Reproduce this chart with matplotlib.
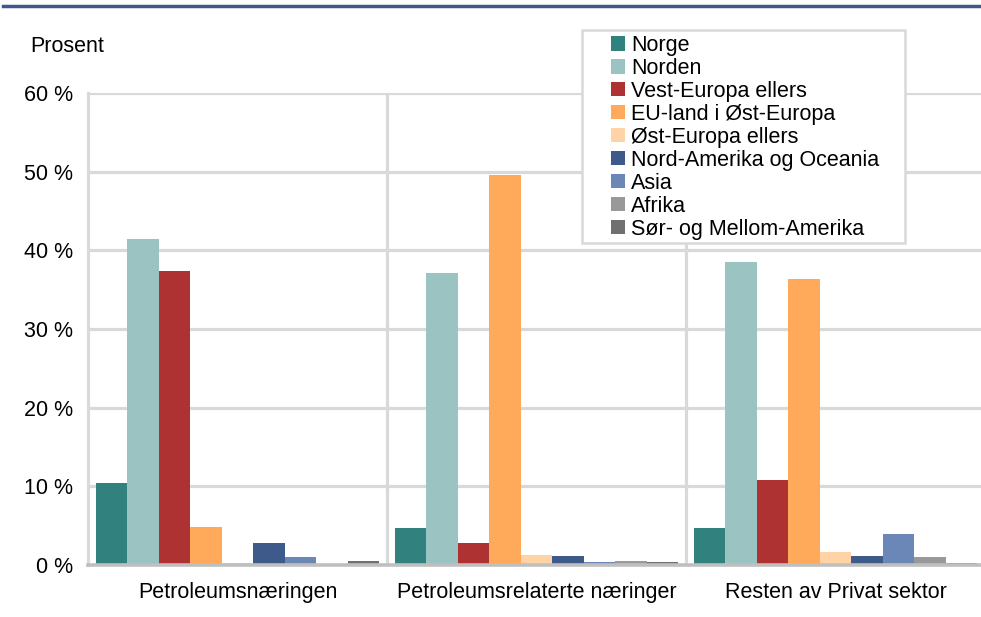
import matplotlib
matplotlib.use("Agg")
import matplotlib.pyplot as plt
import numpy as np
from matplotlib.lines import Line2D
from matplotlib.patches import Rectangle

plt.rcParams['font.family'] = ['Liberation Sans', 'DejaVu Sans']

categories = ["Petroleumsnæringen", "Petroleumsrelaterte næringer", "Resten av Privat sektor"]
series = ["Norge", "Norden", "Vest-Europa ellers", "EU-land i Øst-Europa", "Øst-Europa ellers",
          "Nord-Amerika og Oceania", "Asia", "Afrika", "Sør- og Mellom-Amerika"]
values = {
    "Norge":                   [10.4, 4.7, 4.7],
    "Norden":                  [41.4, 37.1, 38.5],
    "Vest-Europa ellers":      [37.4, 2.8, 10.8],
    "EU-land i Øst-Europa":    [4.8, 49.6, 36.4],
    "Øst-Europa ellers":       [0.3, 1.3, 1.7],
    "Nord-Amerika og Oceania": [2.8, 1.1, 1.1],
    "Asia":                    [1.0, 0.4, 3.9],
    "Afrika":                  [0.1, 0.5, 1.0],
    "Sør- og Mellom-Amerika":  [0.5, 0.4, 0.3],
}
colors = ["#31827f", "#9bc3c2", "#ae3232", "#ffaa5a", "#ffd3a6",
          "#3e5a8a", "#6b87b8", "#999999", "#707070"]
yticks = [0, 10, 20, 30, 40, 50, 60]
ytick_labels = ["0 %", "10 %", "20 %", "30 %", "40 %", "50 %", "60 %"]

FS = 15.5
W, H = 981, 617
fig = plt.figure(figsize=(W/100, H/100), dpi=100)
ax = fig.add_axes([88/W, (H-565)/H, 897/W, 472/H])

x = np.arange(len(categories))
w = 0.1055
n = len(series)
for i, s in enumerate(series):
    ax.bar(x + (i - (n-1)/2) * w, values[s], width=w, color=colors[i], label=s, zorder=3)

ax.set_xlim(-0.5, 2.5)
ax.set_ylim(0, 60)
ax.set_yticks(yticks)
ax.set_yticklabels(ytick_labels, fontsize=FS)
ax.set_xticks(x)
ax.set_xticklabels(categories, fontsize=FS)
ax.tick_params(axis='both', length=0)
ax.tick_params(axis='y', pad=11)
ax.tick_params(axis='x', pad=12)

grid_c = "#d9d9d9"
for yv in yticks[1:]:
    ax.axhline(yv, color=grid_c, lw=2.3, zorder=1)
for xv in [0.5, 1.5]:
    ax.axvline(xv, color=grid_c, lw=2.3, zorder=1)
for sp in ['top', 'right']:
    ax.spines[sp].set_visible(False)
ax.spines['left'].set_color(grid_c)
ax.spines['left'].set_linewidth(2.3)
ax.spines['bottom'].set_color("#bfbfbf")
ax.spines['bottom'].set_linewidth(2.6)
ax.spines['bottom'].set_zorder(4)

fig.text(30/W, 1 - 47/H, "Prosent", fontsize=FS, va='center', ha='left')

# legend frame
frame = Rectangle((582/W, 1 - 243/H), (905-582)/W, (243-30)/H, transform=fig.transFigure,
                  facecolor='white', edgecolor=grid_c, lw=1.8, zorder=9)
fig.add_artist(frame)
leg = fig.legend(loc='upper left', bbox_to_anchor=(611/W, 1 - 35/H), fontsize=FS,
                 frameon=False, handlelength=0.65, handleheight=0.65, handletextpad=0.3,
                 labelspacing=0.09, borderpad=0, borderaxespad=0)
leg.set_zorder(10)

fig.add_artist(Line2D([3/W, 1], [1 - 6/H, 1 - 6/H], color="#3f5a8a", lw=2.5,
                      transform=fig.transFigure))

fig.savefig("out.png", dpi=100)
